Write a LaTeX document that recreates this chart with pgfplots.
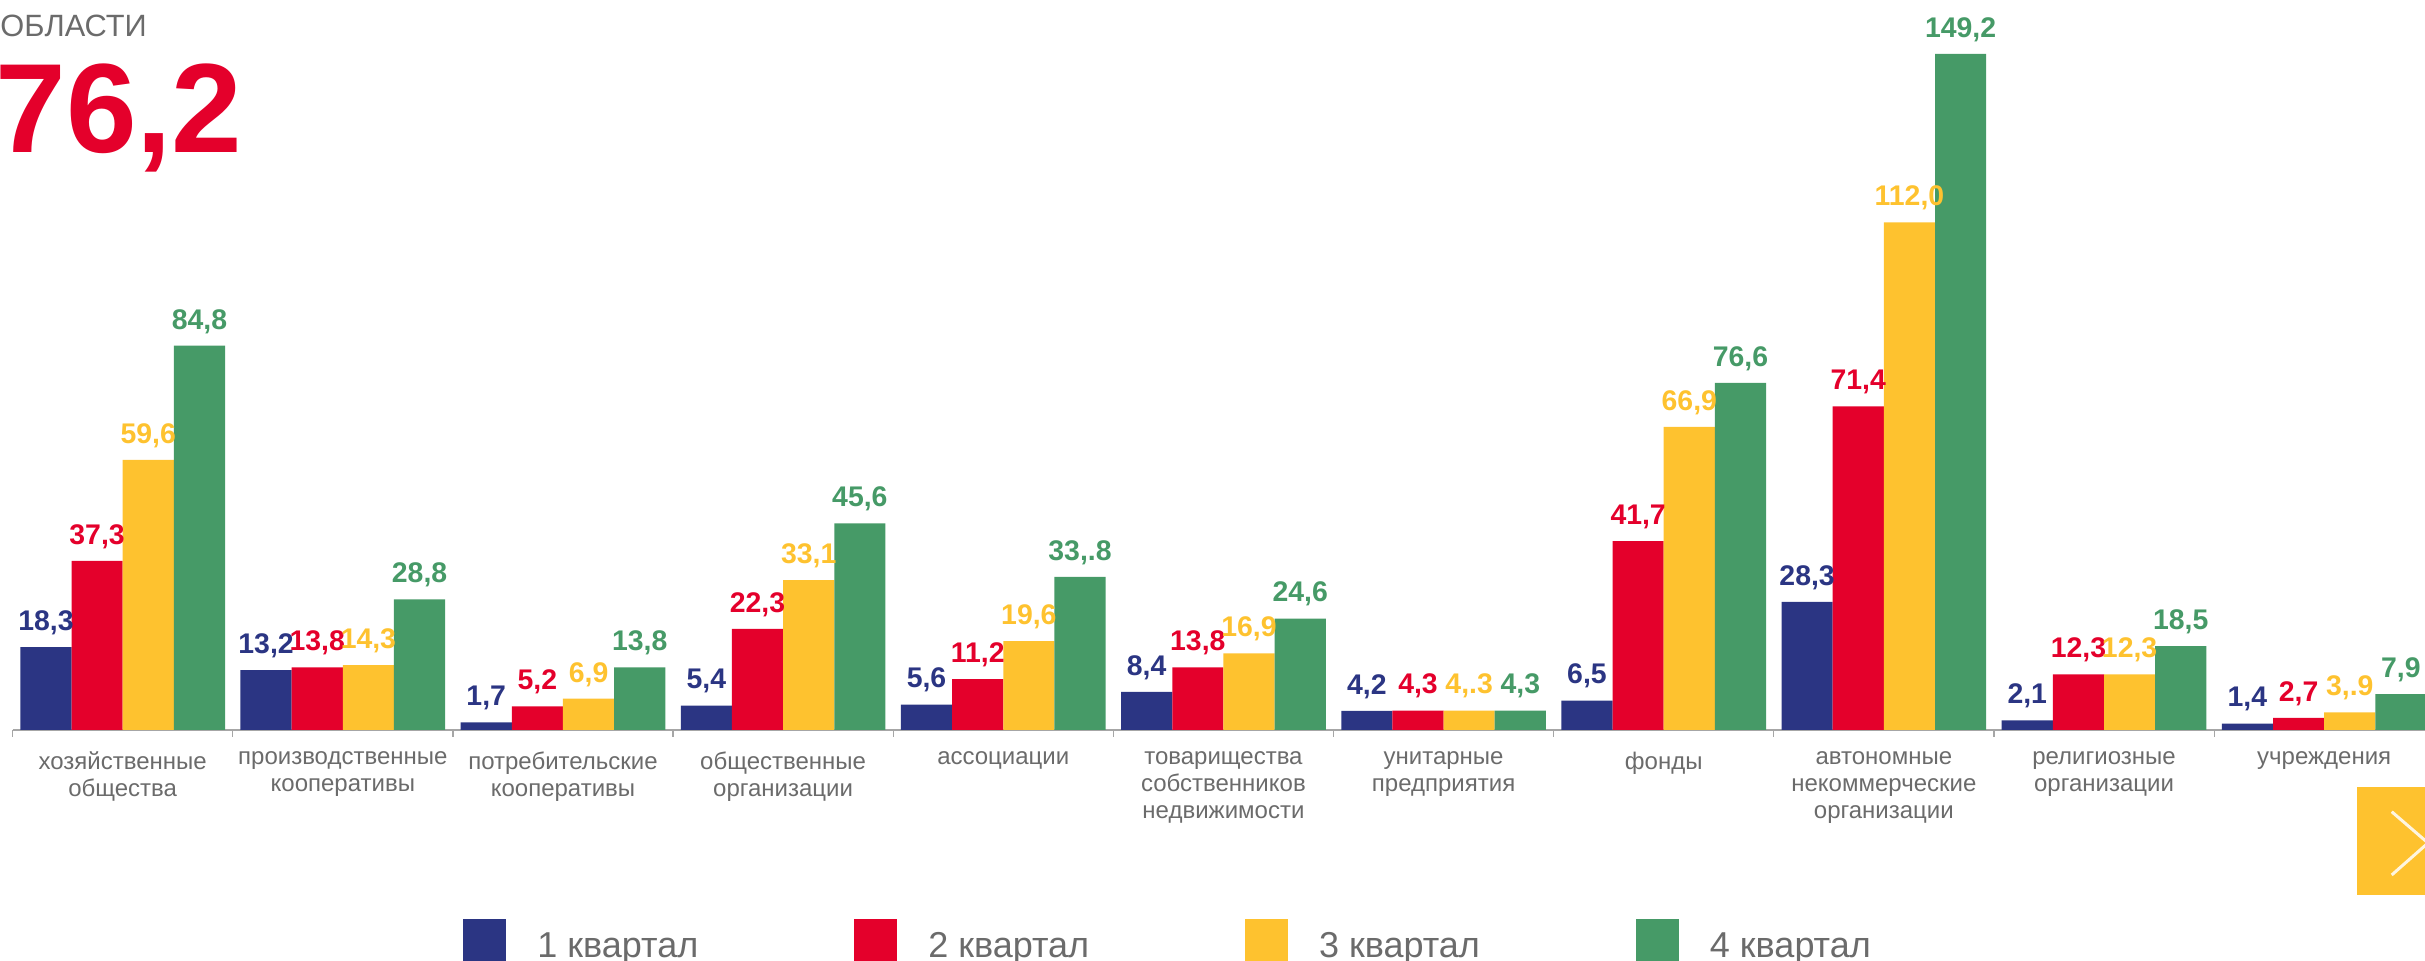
\documentclass[border=0pt]{standalone}
\usepackage{fontspec}
\setmainfont{Liberation Sans}
\usepackage{pgfplots}
\usepackage{pgfplotstable}
\pgfplotsset{compat=1.18}
\definecolor{qblue}{HTML}{2B3583}
\definecolor{qred}{HTML}{E4002B}
\definecolor{qyellow}{HTML}{FEC22F}
\definecolor{qgreen}{HTML}{469A67}
\definecolor{qgrey}{HTML}{6B6B6B}
\definecolor{qaxis}{HTML}{A6A6A6}

\pgfplotstableread{
x y lab
0 18.3 18,3
1 13.2 13,2
2 1.7 1,7
3 5.4 5,4
4 5.6 5,6
5 8.4 8,4
6 4.2 4,2
7 6.5 6,5
8 28.3 28,3
9 2.1 2,1
10 1.4 1,4
}\qone
\pgfplotstableread{
x y lab
0 37.3 37,3
1 13.8 13,8
2 5.2 5,2
3 22.3 22,3
4 11.2 11,2
5 13.8 13,8
6 4.3 4,3
7 41.7 41,7
8 71.4 71,4
9 12.3 12,3
10 2.7 2,7
}\qtwo
\pgfplotstableread{
x y lab
0 59.6 59,6
1 14.3 14,3
2 6.9 6,9
3 33.1 33,1
4 19.6 19,6
5 16.9 16,9
6 4.3 4,.3
7 66.9 66,9
8 112.0 112,0
9 12.3 12,3
10 3.9 3,.9
}\qthree
\pgfplotstableread{
x y lab
0 84.8 84,8
1 28.8 28,8
2 13.8 13,8
3 45.6 45,6
4 33.8 33,.8
5 24.6 24,6
6 4.3 4,3
7 76.6 76,6
8 149.2 149,2
9 18.5 18,5
10 7.9 7,9
}\qfour

\begin{document}
\begin{tikzpicture}
\useasboundingbox (0,0) rectangle (1212.5pt,480.5pt);
\clip (0,0) rectangle (1212.5pt,480.5pt);
\begin{scope}[shift={(0,480.5pt)},x=0.5pt,y=-0.5pt]
  \node[anchor=base west, inner sep=0pt, text=qgrey, font=\fontsize{15.4}{18}\selectfont] at (0,36.7) {ОБЛАСТИ};
  \node[anchor=base west, inner sep=0pt, text=qred, font=\fontsize{63.5}{70}\selectfont\bfseries] at (-5,153) {76,2};
  \fill[qyellow] (2357,787) rectangle (2470,895);
  \draw[white, opacity=0.85, line width=1.5pt] (2391.7,811.7) -- (2428,843) -- (2391.7,875);
\end{scope}
\begin{axis}[
  at={(6.3pt,115.5pt)}, anchor=south west,
  scale only axis, width=1206.2pt, height=365pt,
  xmin=-0.5, xmax=10.458, ymin=0, ymax=161.1,
  ybar, bar width=0.2324,
  axis x line=bottom, axis y line=none,
  axis line style={draw=qaxis, line width=1pt, -},
  xtick={0,...,10},
  xticklabels={{хозяйственные\\общества},{производственные\\кооперативы},{потребительские\\кооперативы},{общественные\\организации},{ассоциации},{товарищества\\собственников\\недвижимости},{унитарные\\предприятия},{фонды},{автономные\\некоммерческие\\организации},{религиозные\\организации},{учреждения}},
  major tick length=0pt,
  minor xtick={-0.5,0.5,...,10.5},
  minor tick length=3.5pt, tick align=outside,
  minor tick style={draw=qaxis, line width=0.6pt},
  xticklabel style={align=center, font=\fontsize{12}{13.5}\selectfont, text=qgrey, yshift=-7.3pt},
  ytick=\empty,
  clip=false,
  point meta=explicit symbolic,
  nodes near coords,
  every node near coord/.append style={font=\fontsize{14.2}{16}\selectfont\bfseries, yshift=2.6pt},
  legend columns=4,
  legend style={at={(0.1867,-0.2589)}, anchor=north west, draw=none, fill=none, inner sep=0pt,
    nodes={inner sep=0pt, text=qgrey, font=\fontsize{18}{20}\selectfont},
    /tikz/every odd column/.append style={column sep=15.5pt},
    /tikz/every even column/.append style={column sep=78pt}},
  legend image code/.code={\fill[#1,draw=none] (0pt,-7.5pt) rectangle (21.5pt,13.5pt);},
]
\addplot[fill=qblue, draw=none, bar shift=-0.3486, every node near coord/.append style={text=qblue}] table[x=x,y=y,meta=lab]{\qone};
\addlegendentry{1 квартал}
\addplot[fill=qred, draw=none, bar shift=-0.1162, every node near coord/.append style={text=qred}] table[x=x,y=y,meta=lab]{\qtwo};
\addlegendentry{2 квартал}
\addplot[fill=qyellow, draw=none, bar shift=0.1162, every node near coord/.append style={text=qyellow}] table[x=x,y=y,meta=lab]{\qthree};
\addlegendentry{3 квартал}
\addplot[fill=qgreen, draw=none, bar shift=0.3486, every node near coord/.append style={text=qgreen}] table[x=x,y=y,meta=lab]{\qfour};
\addlegendentry{4 квартал}
\end{axis}
\end{tikzpicture}
\end{document}
